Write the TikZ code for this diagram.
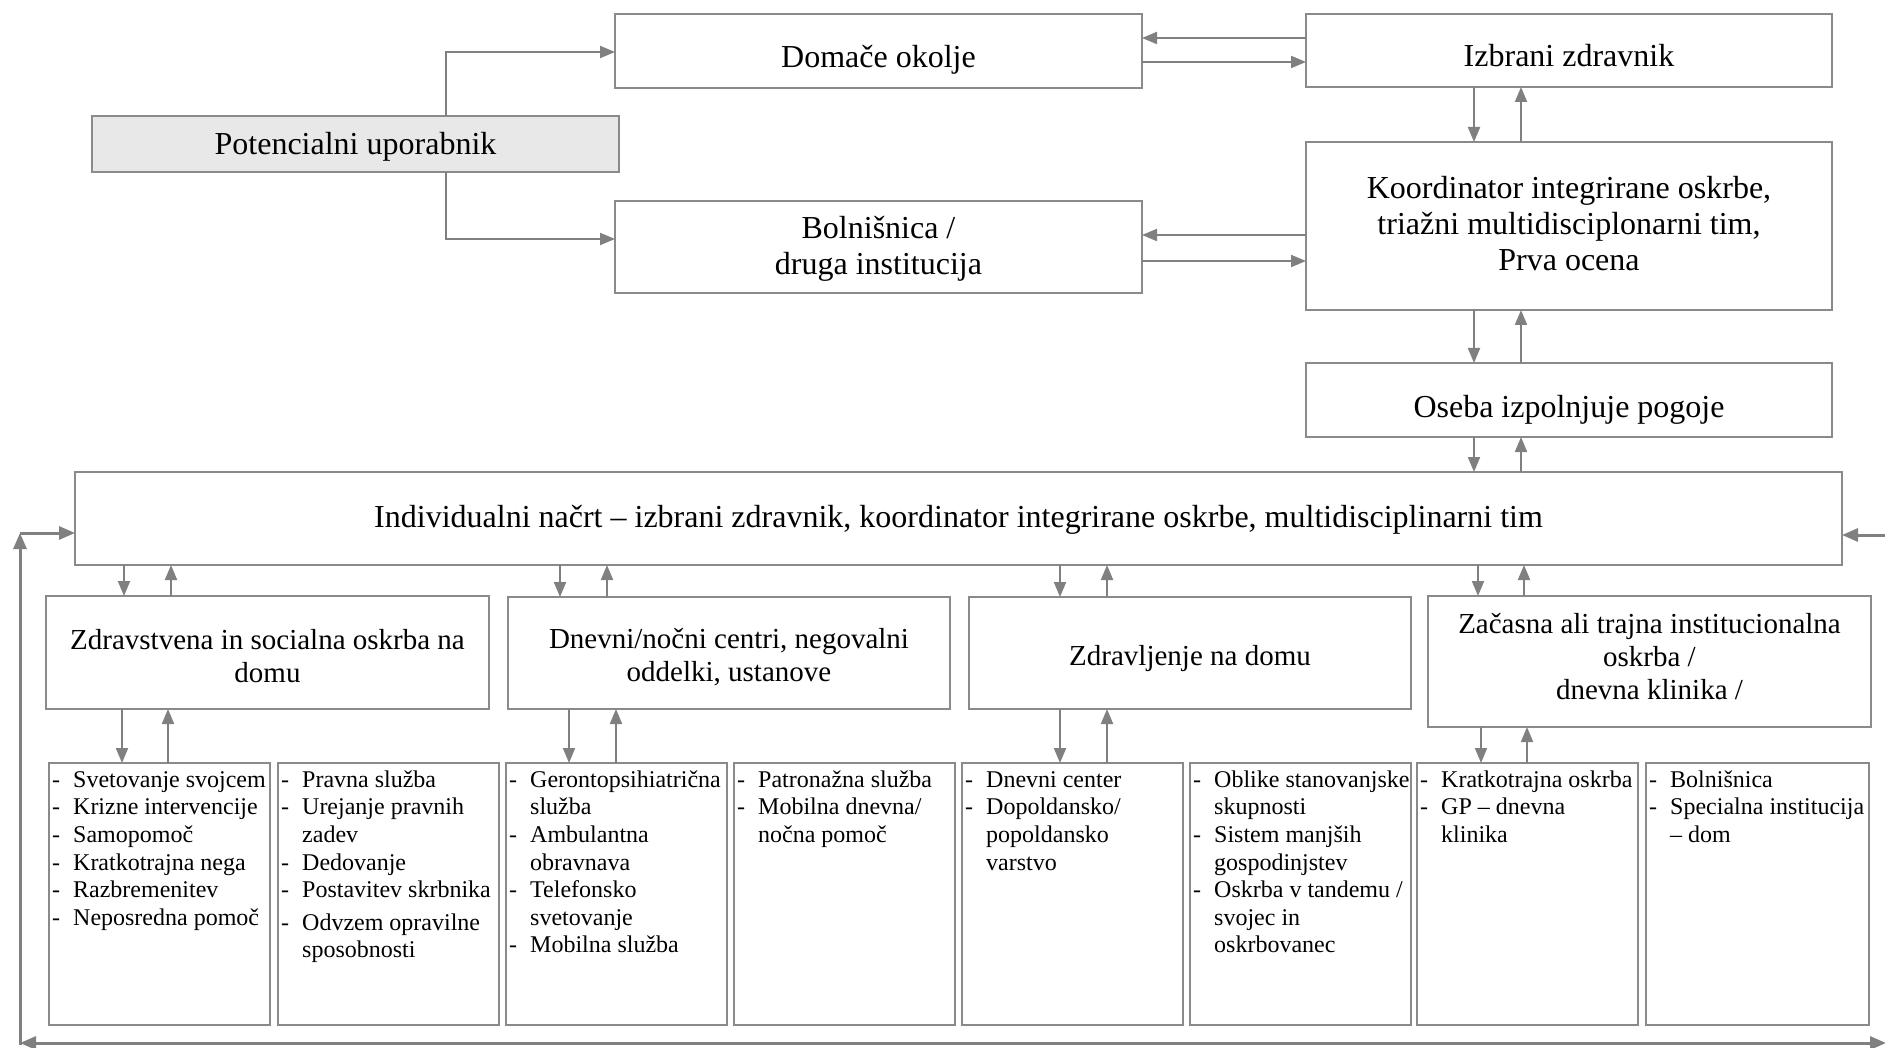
\documentclass[tikz,border=0pt]{standalone}
\usepackage{fontspec}
\setmainfont{Liberation Serif}
\usetikzlibrary{arrows.meta}
\definecolor{lg}{RGB}{128,128,128}
\definecolor{bg}{RGB}{138,138,138}
\definecolor{pfill}{RGB}{232,232,232}
\newcommand\itm[1]{\makebox[21pt][l]{-}#1}
\newcommand\cnt[1]{\hspace*{21pt}#1}
\begin{document}
\begin{tikzpicture}[x=1pt,y=-1pt,
 bx/.style={draw=bg, line width=2.2pt, rectangle, inner sep=0pt, outer sep=0pt, anchor=north west},
 tf/.style={font=\fontsize{32}{36}\selectfont, align=center, inner sep=0pt},
 sf/.style={font=\fontsize{29}{33}\selectfont, align=center, inner sep=0pt},
 lf/.style={font=\fontsize{24}{27.6}\selectfont, align=left, inner sep=0pt, anchor=north west},
 arr/.style={draw=lg, line width=2pt, -{Triangle[length=15pt,width=12pt]}},
 lp/.style={draw=lg, line width=3pt},
 lpa/.style={lp, -{Triangle[length=16pt,width=13pt]}},
 lpb/.style={lp, {Triangle[length=16pt,width=13pt]}-{Triangle[length=16pt,width=13pt]}},
]
\useasboundingbox (0,0) rectangle (1885,1048);
\clip (0,0) rectangle (1885,1048);
\fill[white] (0,0) rectangle (1885,1048);

% top part boxes
\node[bx, minimum width=527pt, minimum height=56pt, fill=pfill] (pot) at (92,116) {};
\node[bx, minimum width=527pt, minimum height=74pt] (dom) at (615,14) {};
\node[bx, minimum width=527pt, minimum height=92pt] (bol) at (615,201) {};
\node[bx, minimum width=526pt, minimum height=73pt] (izb) at (1306,14) {};
\node[bx, minimum width=526pt, minimum height=168pt] (koo) at (1306,142) {};
\node[bx, minimum width=526pt, minimum height=74pt] (ose) at (1306,363) {};
\node[bx, minimum width=1767pt, minimum height=93pt] (ind) at (75,472) {};
% top part texts
\node[tf] (pott) at ([yshift=-3pt]pot.center) {Potencialni uporabnik};
\node[tf] (domt) at ([yshift=-9pt]dom.center) {Domače okolje};
\node[tf] (bolt) at ([yshift=-2pt]bol.center) {Bolnišnica /\\ druga institucija};
\node[tf] (izbt) at ([yshift=-5pt]izb.center) {Izbrani zdravnik};
\node[tf] (koot) at ([yshift=2pt]koo.center) {Koordinator integrirane oskrbe,\\ triažni multidisciplonarni tim,\\ Prva ocena};
\node[tf] (oset) at ([yshift=-10pt]ose.center) {Oseba izpolnjuje pogoje};
\node[tf] (indt) at ([yshift=-1pt]ind.center) {Individualni načrt – izbrani zdravnik, koordinator integrirane oskrbe, multidisciplinarni tim};

% second row
\node[bx, minimum width=443pt, minimum height=113pt] (b1) at (46,596) {};
\node[bx, minimum width=442pt, minimum height=112pt] (b2) at (508,597) {};
\node[bx, minimum width=442pt, minimum height=112pt] (b3) at (969,597) {};
\node[bx, minimum width=443pt, minimum height=131pt] (b4) at (1428,596) {};
\node[sf] (t1) at ([yshift=-4pt]b1.center) {Zdravstvena in socialna oskrba na\\ domu};
\node[sf] (t2) at ([yshift=-4pt]b2.center) {Dnevni/nočni centri, negovalni\\ oddelki, ustanove};
\node[sf] (t3) at ([yshift=-6pt]b3.center) {Zdravljenje na domu};
\node[sf, anchor=north] (t4) at ([yshift=-15pt]b4.north) {\rule{0pt}{22pt}Začasna ali trajna institucionalna\\ oskrba /\\ dnevna klinika /};

% third row
\node[bx, minimum width=221pt, minimum height=262pt] (r1) at (49,763) {};
\node[bx, minimum width=221pt, minimum height=262pt] (r2) at (278,763) {};
\node[bx, minimum width=221pt, minimum height=262pt] (r3) at (506,763) {};
\node[bx, minimum width=221pt, minimum height=262pt] (r4) at (734,763) {};
\node[bx, minimum width=221pt, minimum height=262pt] (r5) at (962,763) {};
\node[bx, minimum width=221pt, minimum height=262pt] (r6) at (1190,763) {};
\node[bx, minimum width=221pt, minimum height=262pt] (r7) at (1417,763) {};
\node[bx, minimum width=223pt, minimum height=262pt] (r8) at (1646,763) {};

\node[lf] (l1) at ([xshift=3pt,yshift=-6pt]r1.north west) {\rule{0pt}{18pt}\itm{Svetovanje svojcem}\\ \itm{Krizne intervencije}\\ \itm{Samopomoč}\\ \itm{Kratkotrajna nega}\\ \itm{Razbremenitev}\\ \itm{Neposredna pomoč}};
\node[lf] (l2) at ([xshift=3pt,yshift=-6pt]r2.north west) {\rule{0pt}{18pt}\itm{Pravna služba}\\ \itm{Urejanje pravnih}\\ \cnt{zadev}\\ \itm{Dedovanje}\\ \itm{Postavitev skrbnika}\\[5pt] \itm{Odvzem opravilne}\\ \cnt{sposobnosti}};
\node[lf] (l3) at ([xshift=3pt,yshift=-6pt]r3.north west) {\rule{0pt}{18pt}\itm{Gerontopsihiatrična}\\ \cnt{služba}\\ \itm{Ambulantna}\\ \cnt{obravnava}\\ \itm{Telefonsko}\\ \cnt{svetovanje}\\ \itm{Mobilna služba}};
\node[lf] (l4) at ([xshift=3pt,yshift=-6pt]r4.north west) {\rule{0pt}{18pt}\itm{Patronažna služba}\\ \itm{Mobilna dnevna/}\\ \cnt{nočna pomoč}};
\node[lf] (l5) at ([xshift=3pt,yshift=-6pt]r5.north west) {\rule{0pt}{18pt}\itm{Dnevni center}\\ \itm{Dopoldansko/}\\ \cnt{popoldansko}\\ \cnt{varstvo}};
\node[lf] (l6) at ([xshift=3pt,yshift=-6pt]r6.north west) {\rule{0pt}{18pt}\itm{Oblike stanovanjske}\\ \cnt{skupnosti}\\ \itm{Sistem manjših}\\ \cnt{gospodinjstev}\\ \itm{Oskrba v tandemu /}\\ \cnt{svojec in}\\ \cnt{oskrbovanec}};
\node[lf] (l7) at ([xshift=3pt,yshift=-6pt]r7.north west) {\rule{0pt}{18pt}\itm{Kratkotrajna oskrba}\\ \itm{GP – dnevna}\\ \cnt{klinika}};
\node[lf] (l8) at ([xshift=3pt,yshift=-6pt]r8.north west) {\rule{0pt}{18pt}\itm{Bolnišnica}\\ \itm{Specialna institucija}\\ \cnt{– dom}};

% helper coordinates
\coordinate (p1) at (446,52);
\coordinate (p2) at (446,239);
\coordinate (ya) at (0,38);
\coordinate (yb) at (0,62);
\coordinate (yc) at (0,235);
\coordinate (yd) at (0,261);
\coordinate (vx1) at (1474,0);
\coordinate (vx2) at (1521,0);

% top connectors
\draw[arr] (pot.north -| p1) |- (dom.west |- p1);
\draw[arr] (pot.south -| p2) |- (bol.west |- p2);
\draw[arr] (izb.west |- ya) -- (dom.east |- ya);
\draw[arr] (dom.east |- yb) -- (izb.west |- yb);
\draw[arr] (koo.west |- yc) -- (bol.east |- yc);
\draw[arr] (bol.east |- yd) -- (koo.west |- yd);
\draw[arr] (izb.south -| vx1) -- (koo.north -| vx1);
\draw[arr] (koo.north -| vx2) -- (izb.south -| vx2);
\draw[arr] (koo.south -| vx1) -- (ose.north -| vx1);
\draw[arr] (ose.north -| vx2) -- (koo.south -| vx2);
\draw[arr] (ose.south -| vx1) -- (ind.north -| vx1);
\draw[arr] (ind.north -| vx2) -- (ose.south -| vx2);

% individual plan to second row
\foreach \b/\dx/\ux in {b1/124/171, b2/560/607, b3/1060/1107, b4/1478/1524}{
  \coordinate (dd) at (\dx,0);
  \coordinate (uu) at (\ux,0);
  \draw[arr] (ind.south -| dd) -- (\b.north -| dd);
  \draw[arr] (\b.north -| uu) -- (ind.south -| uu);
}
% second row to third row
\foreach \b/\r/\dx/\ux in {b1/r1/122/168, b2/r3/569/616, b3/r5/1060/1107, b4/r7/1481/1527}{
  \coordinate (dd) at (\dx,0);
  \coordinate (uu) at (\ux,0);
  \draw[arr] (\b.south -| dd) -- (\r.north -| dd);
  \draw[arr] (\r.north -| uu) -- (\b.south -| uu);
}

% feedback loop
\coordinate (lt) at (20,533);
\coordinate (lb) at (20,1043);
\coordinate (lb2) at (20,1045);
\coordinate (rb) at (1886,1043);
\coordinate (rt) at (1895,535);
\draw[lpb] (lb) -- (rb);
\draw[lpa] (lb2) -- (lt);
\draw[lpa] (lt) -- (ind.west |- lt);
\draw[lpa] (rt) -- (ind.east |- rt);
\end{tikzpicture}
\end{document}
